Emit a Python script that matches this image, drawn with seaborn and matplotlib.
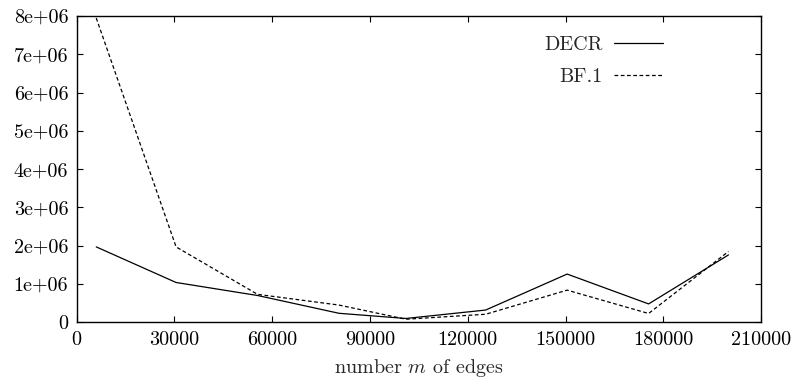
import matplotlib
matplotlib.use("Agg")
import matplotlib.pyplot as plt
import seaborn as sns
import pandas as pd

edges = [6000, 30500, 55500, 80500, 101000, 125500, 150500, 175500, 200000]
decr = [1.97e6, 1.04e6, 0.70e6, 0.235e6, 0.10e6, 0.32e6, 1.26e6, 0.48e6, 1.76e6]
bf1 = [7.95e6, 1.97e6, 0.73e6, 0.45e6, 0.08e6, 0.21e6, 0.84e6, 0.23e6, 1.85e6]
series_names = ["DECR", "BF.1"]
xticks = [0, 30000, 60000, 90000, 120000, 150000, 180000, 210000]
yticks = [0, 1e6, 2e6, 3e6, 4e6, 5e6, 6e6, 7e6, 8e6]
ytick_labels = ["0", "1e+06", "2e+06", "3e+06", "4e+06", "5e+06", "6e+06", "7e+06", "8e+06"]

df = pd.DataFrame({
    "edges": edges * 2,
    "value": decr + bf1,
    "series": [series_names[0]] * len(edges) + [series_names[1]] * len(edges),
})

sns.set_style("ticks")
plt.rcParams["font.family"] = ["cmr10", "DejaVu Serif"]
plt.rcParams["mathtext.fontset"] = "cm"
plt.rcParams["axes.unicode_minus"] = False

FS = 14.5
fig = plt.figure(figsize=(7.93, 3.83), dpi=100)
ax = fig.add_axes([0.0967, 0.1585, 0.863, 0.7995])

sns.lineplot(data=df, x="edges", y="value", style="series", hue="series",
             palette=["black", "black"], dashes={"DECR": "", "BF.1": (3, 2)},
             linewidth=0.9, ax=ax, legend=True, errorbar=None)

ax.set_xlim(0, 210000)
ax.set_ylim(0, 8e6)
ax.set_xticks(xticks)
ax.set_xticklabels([str(t) for t in xticks])
ax.set_yticks(yticks)
ax.set_yticklabels(ytick_labels)
ax.tick_params(direction="in", length=4, width=0.8, top=True, right=True,
               labelsize=FS, colors="black", pad=6)
for s in ax.spines.values():
    s.set_linewidth(1.0)
    s.set_color("black")
ax.set_xlabel("number $m$ of edges", fontsize=FS, labelpad=6)
ax.set_ylabel("")

handles, labels = ax.get_legend_handles_labels()
ax.legend(handles, labels, loc="upper right", bbox_to_anchor=(0.857, 0.935),
          frameon=False, markerfirst=False, fontsize=FS, handlelength=2.45,
          labelspacing=0.7, handletextpad=0.55, borderpad=0, borderaxespad=0)

fig.savefig("out.png", dpi=100)
